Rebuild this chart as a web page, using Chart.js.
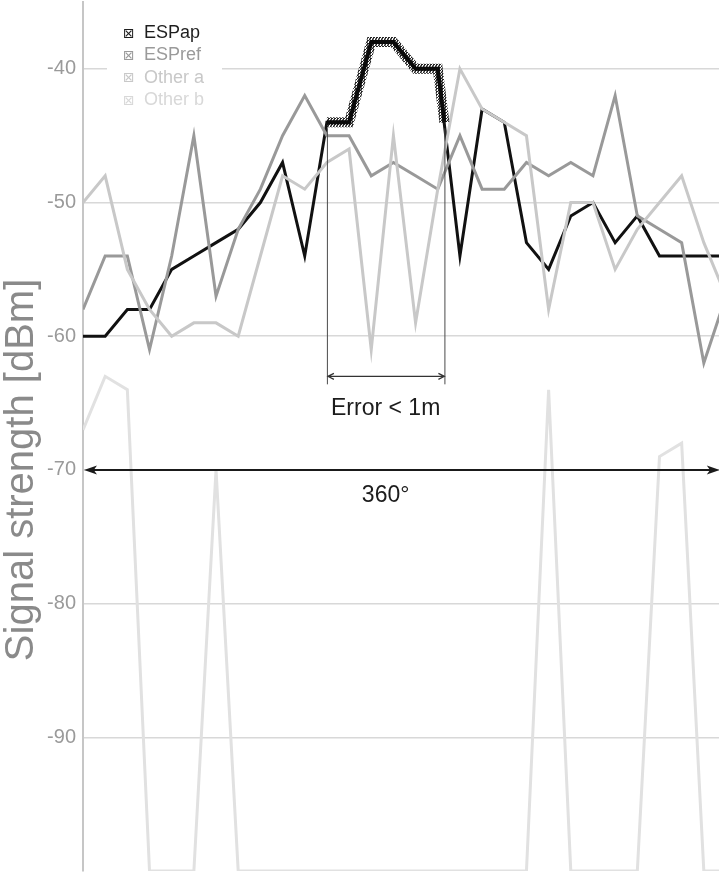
<!DOCTYPE html>
<html>
<head>
<meta charset="utf-8">
<script src="https://cdn.jsdelivr.net/npm/chart.js@4.4.0/dist/chart.umd.min.js"></script>
<style>
  html, body { margin: 0; padding: 0; background: #fff; overflow: hidden; width: 719px; height: 872px; }
  #wrap { position: relative; width: 726px; height: 872px; }
</style>
</head>
<body>
<div id="wrap"><canvas id="c" width="726" height="872"></canvas></div>
<script>
// Rotation steps of the scan (one full turn, the last step runs off the right edge)
const steps = [0, 1, 2, 3, 4, 5, 6, 7, 8, 9, 10, 11, 12, 13, 14, 15, 16, 17, 18, 19, 20, 21, 22, 23, 24, 25, 26, 27, 28, 29];

// Received signal strength per step, dBm
const espap  = [-60, -60, -58, -58, -55, -54, -53, -52, -50, -47, -54, -44, -44, -38, -38, -40, -40, -54, -43, -44, -53, -55, -51, -50, -53, -51, -54, -54, -54, -54];
const espref = [-58, -54, -54, -61, -54, -45, -57, -52, -49, -45, -42, -45, -45, -48, -47, -48, -49, -45, -49, -49, -47, -48, -47, -48, -42, -51, -52, -53, -62, -57];
const otherA = [-50, -48, -55, -58, -60, -59, -59, -60, -54, -48, -49, -47, -46, -61, -45, -59, -49, -40, -43, -44, -45, -58, -50, -50, -55, -52, -50, -48, -53, -57];
const otherB = [-67, -63, -64, -100, -100, -100, -70, -100, -100, -100, -100, -100, -100, -100, -100, -100, -100, -100, -100, -100, -100, -64, -100, -100, -100, -100, -69, -68, -100, -100];

// Strongest part of the ESPap curve (the "Error < 1m" window)
const errorWindowX = [11, 12, 13, 14, 15, 16, 16.3];
const errorWindowY = [-44, -44, -38, -38, -40, -40, -44];

// Y axis tick values
const yTicks = [-90, -80, -70, -60, -50, -40];

// Span of the full-turn arrow (step units) and its level (dBm)
const fullTurnSpan = [0, 28.72];
const fullTurnLevel = -70;
const bracketLevel = -63;

const seriesNames  = ['ESPap', 'ESPref', 'Other a', 'Other b'];
const seriesColors = ['#111111', '#999999', '#c8c8c8', '#e1e1e1'];
const legendColors = ['#1e1e1e', '#9a9a9a', '#c8c8c8', '#d8d8d8'];
const axisTitle = 'Signal strength [dBm]';

const SANS = '"Liberation Sans", Arial, Helvetica, sans-serif';

function toPoints(xs, ys) { return ys.map((y, i) => ({ x: xs[i], y: y })); }

// Speckled stroke for the highlighted window
function speckle() {
  const p = document.createElement('canvas');
  p.width = 3; p.height = 3;
  const g = p.getContext('2d');
  g.fillStyle = 'rgba(25,25,25,0.95)';
  g.fillRect(0, 0, 1, 1); g.fillRect(2, 1, 1, 1); g.fillRect(1, 2, 1, 1);
  g.fillRect(1, 1, 1, 1);
  g.fillStyle = 'rgba(80,80,80,0.7)';
  g.fillRect(1, 0, 1, 1); g.fillRect(0, 2, 1, 1);
  return document.getElementById('c').getContext('2d').createPattern(p, 'repeat');
}

function arrowHead(ctx, x, y, dir, len, half) {
  ctx.beginPath();
  ctx.moveTo(x, y);
  ctx.lineTo(x - dir * len, y - half);
  ctx.lineTo(x - dir * len * 0.75, y);
  ctx.lineTo(x - dir * len, y + half);
  ctx.closePath();
  ctx.fill();
}

const annotations = {
  id: 'annotations',
  afterDatasetsDraw(chart) {
    const { ctx } = chart;
    const xs = chart.scales.x, ys = chart.scales.y;
    ctx.save();

    // Error window bracket
    const xa = xs.getPixelForValue(errorWindowX[0]);
    const xb = xs.getPixelForValue(errorWindowX[errorWindowX.length - 1]);
    const by = ys.getPixelForValue(bracketLevel);
    ctx.strokeStyle = '#4a4a4a';
    ctx.lineWidth = 1;
    ctx.beginPath();
    ctx.moveTo(xa + 0.5, ys.getPixelForValue(errorWindowY[0]) + 6);
    ctx.lineTo(xa + 0.5, by + 8);
    ctx.moveTo(xb + 0.5, ys.getPixelForValue(errorWindowY[errorWindowY.length - 1]) + 6);
    ctx.lineTo(xb + 0.5, by + 8);
    ctx.stroke();
    ctx.strokeStyle = '#333';
    ctx.lineWidth = 1.2;
    ctx.beginPath();
    ctx.moveTo(xa + 1, by); ctx.lineTo(xb, by);
    ctx.moveTo(xa + 7, by - 3); ctx.lineTo(xa + 1, by); ctx.lineTo(xa + 7, by + 3);
    ctx.moveTo(xb - 6, by - 3); ctx.lineTo(xb, by); ctx.lineTo(xb - 6, by + 3);
    ctx.stroke();
    ctx.fillStyle = '#1c1c1c';
    ctx.font = '23px ' + SANS;
    ctx.textAlign = 'center';
    ctx.textBaseline = 'middle';
    ctx.fillText('Error < 1m', (xa + xb) / 2, by + 32);

    // Full-turn arrow
    const fy = ys.getPixelForValue(fullTurnLevel);
    const fx0 = xs.getPixelForValue(fullTurnSpan[0]) + 1;
    const fx1 = xs.getPixelForValue(fullTurnSpan[1]);
    ctx.strokeStyle = '#1a1a1a';
    ctx.fillStyle = '#1a1a1a';
    ctx.lineWidth = 2;
    ctx.beginPath();
    ctx.moveTo(fx0 + 6, fy); ctx.lineTo(fx1 - 6, fy);
    ctx.stroke();
    arrowHead(ctx, fx0, fy, -1, 13, 4.5);
    arrowHead(ctx, fx1, fy, 1, 13, 4.5);
    ctx.fillStyle = '#1c1c1c';
    ctx.fillText('360°', (xa + xb) / 2, fy + 26);
    ctx.restore();
  }
};

// Legend box in the top-left corner and the rotated axis title
const legendBox = {
  id: 'legendBox',
  afterDraw(chart) {
    const { ctx } = chart;
    const ys = chart.scales.y;
    ctx.save();
    ctx.fillStyle = '#ffffff';
    ctx.fillRect(107, 14, 115, 98);
    ctx.textBaseline = 'middle';
    ctx.textAlign = 'left';
    seriesNames.forEach((name, i) => {
      const y = 33 + i * 22.3;
      ctx.fillStyle = legendColors[i];
      ctx.font = '14px "DejaVu Sans", sans-serif';
      ctx.fillText('⊠', 123, y + 1);
      ctx.font = '18px ' + SANS;
      ctx.fillText(name, 144, y);
    });

    ctx.translate(22, ys.getPixelForValue(fullTurnLevel));
    ctx.rotate(-Math.PI / 2);
    ctx.textAlign = 'center';
    ctx.fillStyle = '#8a8a8a';
    ctx.font = '40px ' + SANS;
    ctx.fillText(axisTitle, 0, 0);
    ctx.restore();
  }
};

const seriesData = [espap, espref, otherA, otherB];
const datasets = seriesData.map((vals, i) => ({
  label: seriesNames[i],
  data: toPoints(steps, vals),
  borderColor: seriesColors[i],
  borderWidth: 3,
  pointRadius: 0,
  tension: 0,
  order: 4 - i
}));
datasets.push({
  label: 'ESPap window halo',
  data: toPoints(errorWindowX, errorWindowY),
  borderColor: speckle(),
  borderWidth: 10,
  pointRadius: 0,
  tension: 0,
  order: -1
});
datasets.push({
  label: 'ESPap window',
  data: toPoints(errorWindowX, errorWindowY),
  borderColor: '#0a0a0a',
  borderWidth: 4,
  pointRadius: 0,
  tension: 0,
  order: -2
});

new Chart(document.getElementById('c'), {
  type: 'line',
  data: { datasets },
  options: {
    responsive: false,
    animation: false,
    devicePixelRatio: 1,
    layout: { padding: { top: 2, bottom: 1, left: 0, right: 0 } },
    plugins: { legend: { display: false }, tooltip: { enabled: false } },
    scales: {
      x: { type: 'linear', min: 0, max: 29, display: false },
      y: {
        min: -100,
        max: -35,
        afterBuildTicks: s => { s.ticks = yTicks.map(v => ({ value: v })); },
        afterFit: s => { s.width = 83; s.paddingTop = 0; s.paddingBottom = 0; },
        grid: { color: '#d8d8d8', lineWidth: 1.5, drawTicks: false },
        border: { color: '#c6c6c6', width: 2 },
        ticks: { color: '#9a9a9a', padding: 7, font: { family: SANS, size: 20 } },
        title: { display: false }
      }
    }
  },
  plugins: [annotations, legendBox]
});
</script>
</body>
</html>
